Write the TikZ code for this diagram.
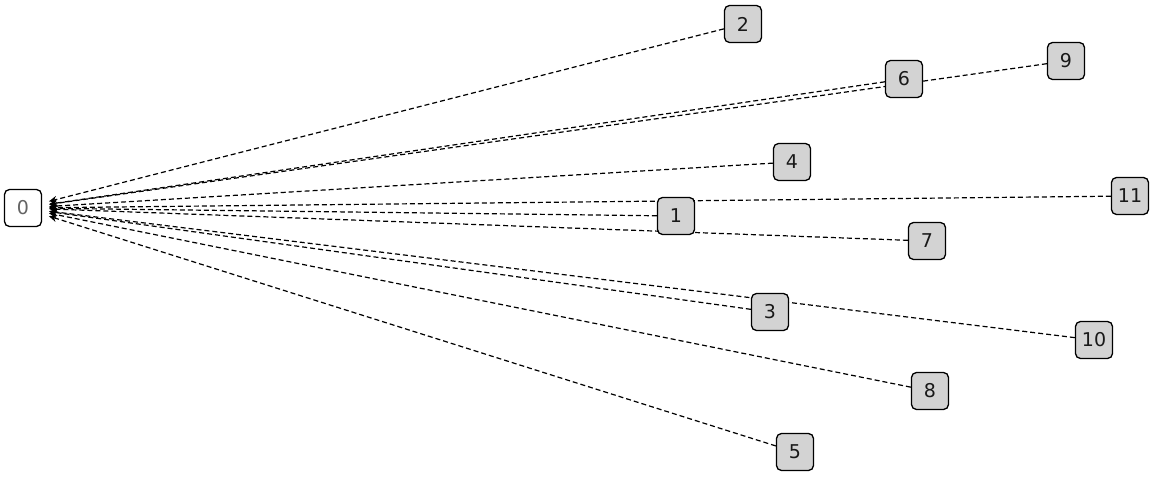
\documentclass[tikz,border=0pt]{standalone}
\usepackage{fontspec}
\setmainfont{DejaVu Sans}
\usetikzlibrary{arrows.meta,backgrounds}
\definecolor{nodegray}{RGB}{211,211,211}
\definecolor{zerotext}{RGB}{100,100,100}
\tikzset{
  nbox/.style={draw=black, fill=nodegray, rounded corners=5pt, line width=1.3pt,
    minimum width=37pt, minimum height=37pt, inner sep=2pt,
    font=\fontsize{19}{20}\selectfont, text=black!90},
  rootbox/.style={nbox, fill=white, text=zerotext},
  edge/.style={draw=black, line width=1.2pt, dash pattern=on 5pt off 3pt,
    -{Stealth[length=8pt,width=7pt]}, shorten >=7pt}
}
\begin{document}
\begin{tikzpicture}[x=1pt,y=-1pt]
\useasboundingbox (0,0) rectangle (1154,487);
% nodes
\node[rootbox] (n0) at (23,208) {0};
\node[nbox] (n2) at (743,24) {2};
\node[nbox] (n6) at (904,79) {6};
\node[nbox] (n9) at (1066,61) {9};
\node[nbox] (n4) at (792,162) {4};
\node[nbox] (n11) at (1130,196) {11};
\node[nbox] (n1) at (676,216) {1};
\node[nbox] (n7) at (927,241) {7};
\node[nbox] (n3) at (770,312) {3};
\node[nbox] (n10) at (1094,340) {10};
\node[nbox] (n8) at (930,391) {8};
\node[nbox] (n5) at (795,452) {5};
% edges
\begin{pgfonlayer}{background}
\foreach \s in {n2,n6,n9,n4,n11,n1,n7,n3,n10,n8,n5}{
  \path[edge] (\s) -- (n0);
}
\end{pgfonlayer}
\end{tikzpicture}
\end{document}
